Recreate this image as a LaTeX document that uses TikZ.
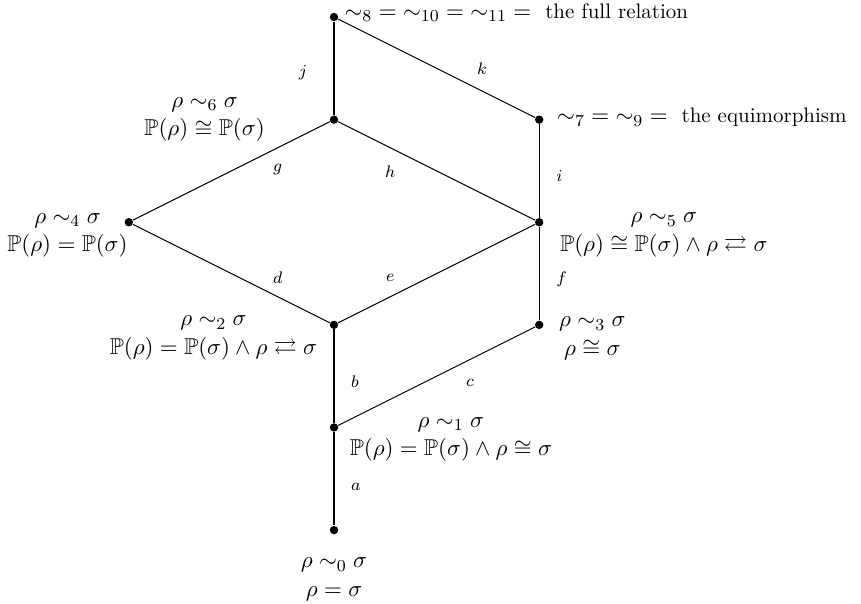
\documentclass[tikz,border=0pt,11pt]{standalone}
\usepackage{amssymb}
\usetikzlibrary{positioning}

\begin{document}
\begin{tikzpicture}[
    x=1.72cm, y=1.72cm,
    vtx/.style={circle, fill=black, inner sep=0pt, minimum size=4pt},
    rel/.style={align=center},
    edg/.style={-, draw=black, line width=0.5pt},
    lbl/.style={font=\scriptsize},
]
\useasboundingbox (-3.255,-0.711) rectangle (5.136,5.166);

% points of the lattice
\foreach \n/\x/\y in {s0/0/0, s1/0/1, s2/0/2, s3/2/2, s4/-2/3,
                      s5/2/3, s6/0/4, s7/2/4, s8/0/5}
    \node[vtx] (\n) at (\x,\y) {};

% what each point stands for
\node[rel, below=2.5mm of s0] (l0) {$\rho \sim_0 \sigma$\\$\rho = \sigma$};
\node[rel, right=1.5pt of s1, yshift=-5.7pt] (l1)
    {$\rho \sim_1 \sigma$\\$\mathbb{P}(\rho) = \mathbb{P}(\sigma) \wedge \rho \cong \sigma$};
\node[rel, left=2pt of s2, yshift=-6.2pt] (l2)
    {$\rho \sim_2 \sigma$\\$\mathbb{P}(\rho) = \mathbb{P}(\sigma) \wedge \rho \rightleftarrows \sigma$};
\node[rel, right=3.5pt of s3, yshift=-6.4pt] (l3) {$\rho \sim_3 \sigma$\\$\rho \cong \sigma$};
\node[rel, left=-5.5pt of s4, yshift=-6.2pt] (l4)
    {$\rho \sim_4 \sigma$\\$\mathbb{P}(\rho) = \mathbb{P}(\sigma)$};
\node[rel, right=4pt of s5, yshift=-6pt] (l5)
    {$\rho \sim_5 \sigma$\\$\mathbb{P}(\rho) \cong \mathbb{P}(\sigma) \wedge \rho \rightleftarrows \sigma$};
\node[rel, left=27pt of s6] (l6) {$\rho \sim_6 \sigma$\\$\mathbb{P}(\rho) \cong \mathbb{P}(\sigma)$};
\node[rel, right=2.5pt of s7, yshift=1pt] (l7) {${\sim_7} = {\sim_9} = {}$ \small the equimorphism};
\node[rel, right=-1pt of s8, yshift=2pt] (l8)
    {${\sim_8} = {\sim_{10}} = {\sim_{11}} = {}$ \small the full relation};

% covering edges
\draw[edg] (s0) -- node[lbl, pos=0.41, right=4.3pt] {$a$} (s1);
\draw[edg] (s1) -- node[lbl, pos=0.44, right=4.3pt] {$b$} (s2);
\draw[edg] (s1) -- node[lbl, pos=0.67, below=5.7pt] {$c$} (s3);
\draw[edg] (s4) -- node[lbl, pos=0.735, above=2.3pt] {$d$} (s2);
\draw[edg] (s2) -- node[lbl, pos=0.265, above=3.3pt] {$e$} (s5);
\draw[edg] (s3) -- node[lbl, pos=0.44, right=4.3pt] {$f$} (s5);
\draw[edg] (s4) -- node[lbl, pos=0.735, below=4pt] {$g$} (s6);
\draw[edg] (s6) -- node[lbl, pos=0.265, below=4.5pt] {$h$} (s5);
\draw[edg] (s5) -- node[lbl, pos=0.45, right=4.3pt] {$i$} (s7);
\draw[edg] (s6) -- node[lbl, pos=0.45, left=9pt] {$j$} (s8);
\draw[edg] (s8) -- node[lbl, pos=0.73, above=3.8pt] {$k$} (s7);
\end{tikzpicture}
\end{document}
